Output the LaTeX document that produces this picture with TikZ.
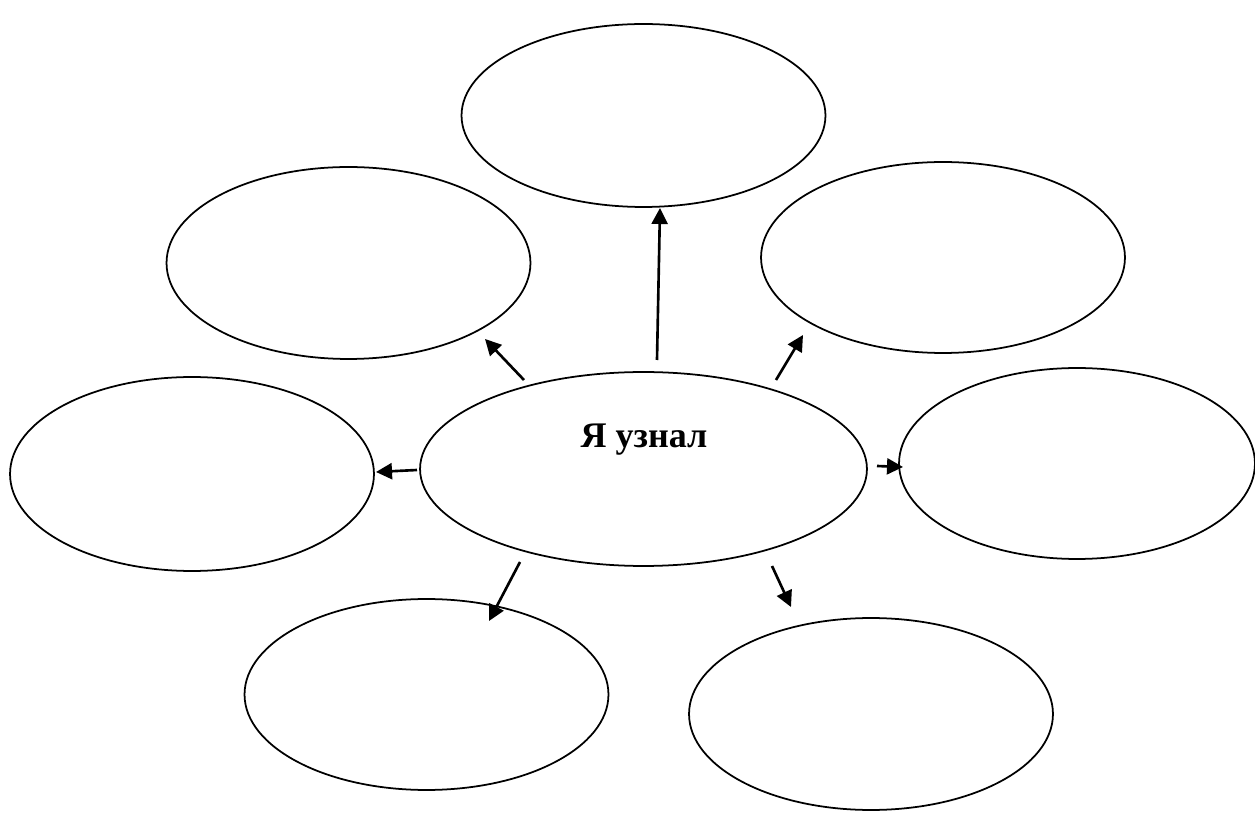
\documentclass[tikz,border=0pt]{standalone}
\usepackage{fontspec}
\setmainfont{Liberation Serif}
\usetikzlibrary{shapes.geometric,arrows.meta}
\begin{document}
\begin{tikzpicture}[x=0.02cm,y=-0.02cm,
  oval/.style={draw=black,line width=1pt,ellipse,inner sep=0pt,
    minimum width=7.28cm,minimum height=3.84cm},
  ray/.style={line width=1.5pt,-{Triangle[length=0.32cm,width=0.32cm]}}]
\useasboundingbox (0,0) rectangle (1255,817);
% central idea
\node[oval,minimum width=8.94cm,minimum height=3.88cm] (c) at (643.5,469) {};
\node[anchor=base,font=\bfseries\fontsize{20.5}{25}\selectfont] (lbl) at (644,448) {Я узнал};
% surrounding ovals
\node[oval,minimum height=3.66cm] (t)  at (643.5,115.5) {};
\node[oval,minimum height=3.84cm] (ul) at (348.5,263) {};
\node[oval,minimum height=3.82cm] (ur) at (943,257.5) {};
\node[oval,minimum height=3.88cm] (l)  at (192,474) {};
\node[oval,minimum width=7.12cm,minimum height=3.82cm] (r) at (1077,463.5) {};
\node[oval,minimum height=3.82cm] (bl) at (426.5,694.5) {};
\node[oval,minimum height=3.84cm] (br) at (871,714) {};
% arrow end points
\coordinate (s1) at (657,360); \coordinate (e1) at (660,208);
\coordinate (s2) at (524,380); \coordinate (e2) at (485,339);
\coordinate (s3) at (776,380); \coordinate (e3) at (803,335);
\coordinate (s4) at (417,470); \coordinate (e4) at (376,472);
\coordinate (s5) at (877,466); \coordinate (e5) at (903,467);
\coordinate (s6) at (520,562); \coordinate (e6) at (489,621);
\coordinate (s7) at (772,566); \coordinate (e7) at (791,607);
\foreach \i in {1,...,7} \draw[ray] (s\i) -- (e\i);
\end{tikzpicture}
\end{document}
